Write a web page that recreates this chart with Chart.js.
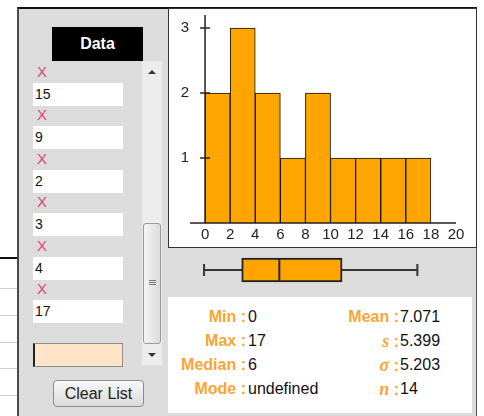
<!DOCTYPE html>
<html>
<head>
<meta charset="utf-8">
<script src="https://cdn.jsdelivr.net/npm/chart.js@4.4.0/dist/chart.umd.min.js"></script>
<style>
  body { margin: 0; width: 484px; height: 416px; position: relative; overflow: hidden; background: #fff;
         font-family: "Liberation Sans", Arial, sans-serif; }
  .abs { position: absolute; }
  .sheetline { position: absolute; left: 0; width: 17px; height: 1px; background: #cfcfcf; }
  #panel { left: 17px; top: 7px; width: 460px; height: 420px; background: #dcdcdc; box-sizing: border-box;
           border-top: 2px solid #111; border-left: 2px solid #4a4a4a; border-right: 1px solid #555; }
  #dataHead { left: 52px; top: 27px; width: 91px; height: 34px; background: #000; color: #fff;
              font-weight: bold; font-size: 16px; line-height: 34px; text-align: center; }
  .xmark { position: absolute; left: 37px; width: 12px; font-size: 15px; color: #e0457b; line-height: 14px; }
  .cell { position: absolute; left: 33px; width: 90px; height: 23px; background: #fff; font-size: 14px;
          line-height: 23px; padding-left: 2px; box-sizing: border-box; color: #111; }
  #track { left: 142px; top: 61px; width: 20px; height: 304px; background: #ececec; }
  .arrowUp { position: absolute; width: 0; height: 0; border-left: 4px solid transparent;
             border-right: 4px solid transparent; border-bottom: 4px solid #333; }
  .arrowDown { position: absolute; width: 0; height: 0; border-left: 4px solid transparent;
               border-right: 4px solid transparent; border-top: 4px solid #333; }
  #thumb { left: 143px; top: 223px; width: 18px; height: 121px; box-sizing: border-box; border: 1px solid #9a9a9a;
           border-radius: 3px; background: linear-gradient(90deg, #f4f4f4, #dcdcdc); }
  .grip { position: absolute; left: 5px; width: 7px; height: 1px; background: #777; }
  #entry { left: 33px; top: 343px; width: 90px; height: 24px; background: #ffe4c8; box-sizing: border-box;
           border: 1px solid #8c8c8c; border-left: 2px solid #222; }
  #clearBtn { left: 53px; top: 380px; width: 91px; height: 27px; box-sizing: border-box; border: 1px solid #8a8a8a;
              border-radius: 4px; background: linear-gradient(#f8f8f8, #dadada); font-size: 16px; color: #222;
              text-align: center; line-height: 25px; }
  #chartBox { left: 168px; top: 8px; width: 309px; height: 240px; background: #fff; box-sizing: border-box;
              border: 1px solid #333; }
  #hist { left: 169px; top: 3px; }
  #boxplot { left: 169px; top: 250px; }
  #statsBox { left: 168px; top: 297px; width: 304px; height: 116px; background: #fff; }
  .slabel { position: absolute; text-align: right; font-size: 16px; font-weight: bold; color: #faa532; line-height: 18px; }
  .sval { position: absolute; font-size: 16px; color: #111; line-height: 18px; }
  .greek { font-family: "Liberation Serif", "DejaVu Serif", serif; font-style: italic; font-size: 18px; }
</style>
</head>
<body>
<div class="abs" style="left:0;top:257px;width:17px;height:2px;background:#111"></div>
<div class="sheetline" style="top:288px"></div>
<div class="sheetline" style="top:315px"></div>
<div class="sheetline" style="top:342px"></div>
<div class="sheetline" style="top:368px"></div>
<div class="sheetline" style="top:395px"></div>

<div id="panel" class="abs"></div>
<div id="dataHead" class="abs">Data</div>
<div id="list"></div>
<div id="track" class="abs"></div>
<div class="arrowUp" style="left:148px;top:70px"></div>
<div class="arrowDown" style="left:148px;top:353px"></div>
<div id="thumb" class="abs">
  <div class="grip" style="top:56px"></div>
  <div class="grip" style="top:58px"></div>
  <div class="grip" style="top:60px"></div>
</div>
<div id="entry" class="abs"></div>
<div id="clearBtn" class="abs">Clear List</div>

<div id="chartBox" class="abs"></div>
<canvas id="hist" class="abs" width="307" height="243"></canvas>
<canvas id="boxplot" class="abs" width="307" height="40"></canvas>
<div id="statsBox" class="abs"></div>
<div id="stats"></div>

<script>
"use strict";

// ---- data ----
const listValues = ["15", "9", "2", "3", "4", "17"];
const binStarts = [0, 2, 4, 6, 8, 10, 12, 14, 16];
const binCounts = [2, 3, 2, 1, 2, 1, 1, 1, 1];
const binWidth = 2;
const xTickLabels = [0, 2, 4, 6, 8, 10, 12, 14, 16, 18, 20];
const yTicks = [1, 2, 3];
const boxStats = [0, 3, 6, 11, 17]; // min, q1, median, q3, max
const statLeftNames = ["Min", "Max", "Median", "Mode"];
const statLeftValues = ["0", "17", "6", "undefined"];
const statRightNames = ["Mean", "s", "σ", "n"];
const statRightValues = ["7.071", "5.399", "5.203", "14"];

Chart.defaults.font.family = "'Liberation Sans', Arial, sans-serif";

// ---- list of entries on the left ----
(function buildList() {
  const list = document.getElementById("list");
  listValues.forEach((v, i) => {
    const top = 83 + i * 43.4;
    const x = document.createElement("div");
    x.className = "xmark";
    x.style.top = Math.round(top - 18) + "px";
    x.textContent = "X";
    list.appendChild(x);
    const c = document.createElement("div");
    c.className = "cell";
    c.style.top = Math.round(top) + "px";
    c.textContent = v;
    list.appendChild(c);
  });
})();

// ---- summary stats ----
(function buildStats() {
  const box = document.getElementById("stats");
  const rowY = [308, 332, 356, 380];
  function add(cls, left, right, top, html) {
    const d = document.createElement("div");
    d.className = cls;
    if (left != null) d.style.left = left + "px";
    if (right != null) d.style.right = right + "px";
    d.style.top = top + "px";
    d.innerHTML = html;
    box.appendChild(d);
  }
  statLeftNames.forEach((n, i) => {
    add("slabel", null, 484 - 246, rowY[i], n + " :");
    add("sval", 248, null, rowY[i], statLeftValues[i]);
  });
  statRightNames.forEach((n, i) => {
    const lbl = i === 0 ? n : '<span class="greek">' + n + "</span>";
    add("slabel", null, 484 - 399, rowY[i], lbl + " :");
    add("sval", 400, null, rowY[i], statRightValues[i]);
  });
})();

// ---- histogram ----
const zeroAxes = {
  id: "zeroAxes",
  afterDatasetsDraw(chart) {
    const { ctx, scales: { x, y } } = chart;
    const x0 = x.getPixelForValue(0);
    const y0 = y.getPixelForValue(0);
    ctx.save();
    ctx.strokeStyle = "#222";
    ctx.lineWidth = 1.5;
    ctx.beginPath();
    ctx.moveTo(x0, y.getPixelForValue(y.max));
    ctx.lineTo(x0, y0);
    ctx.moveTo(x.getPixelForValue(x.min), y0);
    ctx.lineTo(x.getPixelForValue(x.max), y0);
    yTicks.forEach((v) => {
      const py = y.getPixelForValue(v);
      ctx.moveTo(x0 - 5, py);
      ctx.lineTo(x0 + 5, py);
    });
    ctx.stroke();
    ctx.restore();
  },
};

new Chart(document.getElementById("hist"), {
  type: "bar",
  data: {
    datasets: [
      {
        data: binStarts.map((s, i) => ({ x: s + binWidth / 2, y: binCounts[i] })),
        backgroundColor: "#FFA500",
        borderColor: "#111",
        borderWidth: 1,
        barPercentage: 1,
        categoryPercentage: 1,
      },
    ],
  },
  options: {
    responsive: false,
    animation: false,
    layout: { padding: { top: 12, right: 20, left: 0, bottom: 0 } },
    plugins: { legend: { display: false }, tooltip: { enabled: false } },
    scales: {
      x: {
        type: "linear",
        min: -1.2,
        max: 20,
        offset: false,
        afterBuildTicks: (s) => { s.ticks = xTickLabels.map((v) => ({ value: v })); },
        afterFit: (s) => { s.height = 23; },
        grid: { display: false, drawTicks: false },
        border: { display: false },
        ticks: { padding: 3, color: "#222", font: { size: 15 }, maxRotation: 0, autoSkip: false },
      },
      y: {
        min: 0,
        max: 3.2,
        afterBuildTicks: (s) => { s.ticks = yTicks.map((v) => ({ value: v })); },
        afterFit: (s) => { s.width = 21; },
        grid: { display: false, drawTicks: false },
        border: { display: false },
        ticks: { padding: 1, color: "#222", font: { size: 15 } },
      },
    },
  },
  plugins: [zeroAxes],
});

// ---- box plot ----
const whiskers = {
  id: "whiskers",
  beforeDatasetsDraw(chart) {
    const { ctx, scales: { x }, chartArea } = chart;
    const cy = (chartArea.top + chartArea.bottom) / 2;
    ctx.save();
    ctx.strokeStyle = "#333";
    ctx.lineWidth = 2;
    ctx.beginPath();
    ctx.moveTo(x.getPixelForValue(boxStats[0]), cy);
    ctx.lineTo(x.getPixelForValue(boxStats[4]), cy);
    [boxStats[0], boxStats[4]].forEach((v) => {
      const px = x.getPixelForValue(v);
      ctx.moveTo(px, cy - 6);
      ctx.lineTo(px, cy + 6);
    });
    ctx.stroke();
    ctx.restore();
  },
  afterDatasetsDraw(chart) {
    const { ctx, scales: { x }, chartArea } = chart;
    const cy = (chartArea.top + chartArea.bottom) / 2;
    const px = x.getPixelForValue(boxStats[2]);
    ctx.save();
    ctx.strokeStyle = "#222";
    ctx.lineWidth = 2;
    ctx.beginPath();
    ctx.moveTo(px, cy - 12);
    ctx.lineTo(px, cy + 12);
    ctx.stroke();
    ctx.restore();
  },
};

new Chart(document.getElementById("boxplot"), {
  type: "bar",
  data: {
    labels: [""],
    datasets: [
      {
        data: [[boxStats[1], boxStats[3]]],
        backgroundColor: "#FFA500",
        borderColor: "#222",
        borderWidth: 2,
        borderSkipped: false,
        barThickness: 24,
      },
    ],
  },
  options: {
    indexAxis: "y",
    responsive: false,
    animation: false,
    layout: { padding: { left: 20, right: 21, top: 0, bottom: 0 } },
    plugins: { legend: { display: false }, tooltip: { enabled: false } },
    scales: {
      x: { type: "linear", min: -1.2, max: 20, display: false },
      y: { display: false },
    },
  },
  plugins: [whiskers],
});
</script>
</body>
</html>
